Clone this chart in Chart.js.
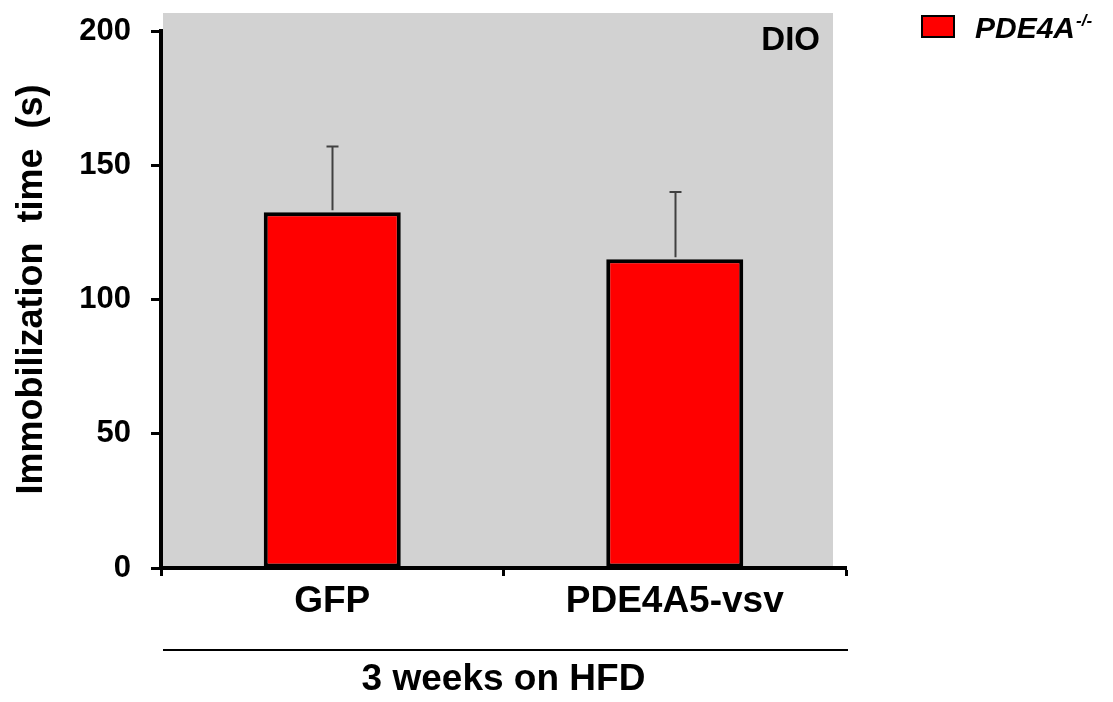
<!DOCTYPE html>
<html>
<head>
<meta charset="utf-8">
<script src="https://cdn.jsdelivr.net/npm/chart.js@4.4.1/dist/chart.umd.min.js"></script>
<style>
  html, body { margin: 0; padding: 0; background: #ffffff; }
  #wrap { width: 1113px; height: 702px; position: relative; }
</style>
</head>
<body>
<div id="wrap"><canvas id="chart" width="1113" height="702"></canvas></div>
<script>
// Immobilization time per treatment group (mean and SEM, seconds)
const categories = ['GFP', 'PDE4A5-vsv'];
const meanTime = [132.5, 115];
const semTime = [24.5, 25];
const yTicks = [0, 50, 100, 150, 200];
const seriesName = 'PDE4A';
const seriesSup = '-/-';
const panelTag = 'DIO';
const groupLabel = '3 weeks on HFD';
const yTitle = '  Immobilization  time  (s)';

const FONT = '"Liberation Sans", Arial, Helvetica, sans-serif';

// Grey panel behind the bars
const panelBackground = {
  id: 'panelBackground',
  beforeDraw(chart) {
    const { ctx, chartArea, scales } = chart;
    const yTop = scales.y.getPixelForValue(200) - 18;
    ctx.save();
    ctx.fillStyle = '#d2d2d2';
    ctx.fillRect(chartArea.left + 2, yTop, chartArea.right - 13 - (chartArea.left + 2), chartArea.bottom - yTop);
    ctx.restore();
  }
};

// One-sided error bars above each bar
const errorBars = {
  id: 'errorBars',
  afterDatasetsDraw(chart) {
    const { ctx, scales } = chart;
    const meta = chart.getDatasetMeta(0);
    ctx.save();
    ctx.strokeStyle = '#404040';
    ctx.lineWidth = 2;
    meta.data.forEach((bar, i) => {
      const x = Math.round(bar.x) + 0.5;
      const yMean = scales.y.getPixelForValue(meanTime[i]);
      const yHigh = scales.y.getPixelForValue(meanTime[i] + semTime[i]);
      ctx.beginPath();
      ctx.moveTo(x, yMean - 2);
      ctx.lineTo(x, yHigh);
      ctx.moveTo(x - 6, yHigh);
      ctx.lineTo(x + 6, yHigh);
      ctx.stroke();
    });
    ctx.restore();
  }
};

// Panel tag, group separator line and legend
const annotations = {
  id: 'annotations',
  afterDraw(chart) {
    const { ctx, chartArea } = chart;
    ctx.save();
    // panel tag
    ctx.fillStyle = '#000';
    ctx.font = 'bold 33px ' + FONT;
    ctx.textAlign = 'right';
    ctx.textBaseline = 'alphabetic';
    ctx.fillText(panelTag, chartArea.right - 26, 50);

    // separator between category labels and group label
    ctx.strokeStyle = '#000';
    ctx.lineWidth = 2;
    ctx.beginPath();
    ctx.moveTo(chartArea.left + 2, 650);
    ctx.lineTo(chartArea.right + 2, 650);
    ctx.stroke();

    // legend
    const bx = 922, by = 16, bw = 32, bh = 21;
    ctx.fillStyle = '#ff0000';
    ctx.fillRect(bx, by, bw, bh);
    ctx.lineWidth = 2;
    ctx.strokeStyle = '#000';
    ctx.strokeRect(bx, by, bw, bh);
    ctx.fillStyle = '#000';
    ctx.textAlign = 'left';
    ctx.font = 'italic bold 30px ' + FONT;
    ctx.fillText(seriesName, 975, 38);
    const w = ctx.measureText(seriesName).width;
    ctx.font = 'italic bold 17px ' + FONT;
    ctx.fillText(seriesSup, 975 + w + 1, 26);
    ctx.restore();
  }
};

new Chart(document.getElementById('chart'), {
  type: 'bar',
  data: {
    labels: categories,
    datasets: [{
      label: seriesName + seriesSup,
      data: meanTime,
      backgroundColor: '#ff0000',
      borderColor: '#000000',
      borderWidth: 4,
      borderSkipped: false,
      categoryPercentage: 1.0,
      barPercentage: 0.4
    }]
  },
  options: {
    responsive: false,
    animation: false,
    devicePixelRatio: 1,
    layout: { padding: { left: 0, right: 267, top: 31, bottom: 0 } },
    plugins: {
      legend: { display: false },
      tooltip: { enabled: false }
    },
    scales: {
      x: {
        afterFit(scale) { scale.height = 134; },
        grid: {
          display: true,
          drawOnChartArea: false,
          drawTicks: true,
          tickLength: 8,
          tickWidth: 3,
          tickColor: '#000',
          offset: true
        },
        border: { display: true, color: '#000', width: 4 },
        ticks: {
          color: '#000',
          padding: 4,
          font: { family: FONT, size: 37, weight: 'bold' }
        },
        title: {
          display: true,
          text: groupLabel,
          color: '#000',
          padding: { top: 0, bottom: 0 },
          font: { family: FONT, size: 37, weight: 'bold' }
        }
      },
      y: {
        min: 0,
        max: 200,
        afterFit(scale) {
          scale.width = 161;
          scale.paddingTop = 0;
          scale.paddingBottom = 0;
        },
        afterBuildTicks(scale) { scale.ticks = yTicks.map(v => ({ value: v })); },
        grid: {
          display: true,
          drawOnChartArea: false,
          drawTicks: true,
          tickLength: 10,
          tickWidth: 3,
          tickColor: '#000'
        },
        border: { display: true, color: '#000', width: 4 },
        ticks: {
          color: '#000',
          padding: 20,
          font: { family: FONT, size: 31, weight: 'bold' }
        },
        title: {
          display: true,
          text: yTitle,
          color: '#000',
          padding: { top: 10, bottom: 0 },
          font: { family: FONT, size: 36, weight: 'bold' }
        }
      }
    }
  },
  plugins: [panelBackground, errorBars, annotations]
});
</script>
</body>
</html>
